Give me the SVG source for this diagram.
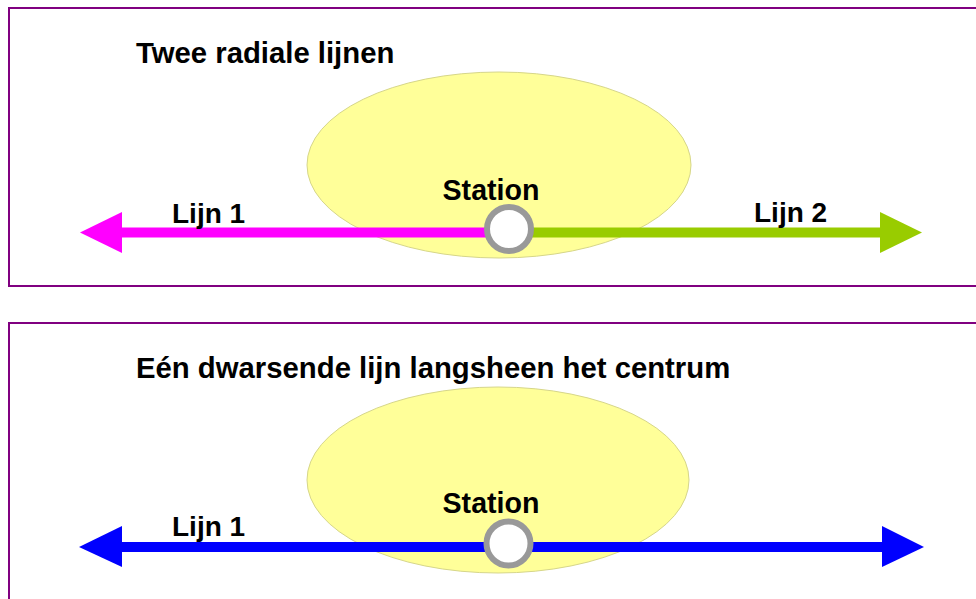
<svg xmlns="http://www.w3.org/2000/svg" width="976" height="599" viewBox="0 0 976 599">
  <defs>
    <style>
      .panel { fill: #ffffff; stroke: #800080; stroke-width: 2; }
      .area { fill: #ffff99; stroke: #d6d68a; stroke-width: 1; }
      .title { font-family: "Liberation Sans", Arial, sans-serif; font-weight: bold; font-size: 29.3px; fill: #000000; }
      .label { font-family: "Liberation Sans", Arial, sans-serif; font-weight: bold; font-size: 28px; fill: #000000; }
      .station { font-size: 28.6px; }
      .stop { fill: #ffffff; stroke: #999999; stroke-width: 6; }
      .line { stroke-width: 10; fill: none; }
    </style>
  </defs>

  <rect width="976" height="599" fill="#ffffff"/>

  <!-- Panel 1: two radial lines -->
  <g id="panel-radial">
    <rect class="panel" x="9" y="8" width="990" height="278"/>
    <text class="title" x="136" y="63">Twee radiale lijnen</text>
    <g id="centre-area-1">
      <ellipse class="area" cx="499" cy="165" rx="192" ry="93"/>
    </g>
    <g id="connectors-1">
      <line class="line" x1="120" y1="232.5" x2="509" y2="232.5" stroke="#ff00ff"/>
      <polygon points="80,232.5 122,212 122,253" fill="#ff00ff"/>
      <line class="line" x1="509" y1="232.5" x2="882" y2="232.5" stroke="#99cc00"/>
      <polygon points="922,232.5 880,212 880,253" fill="#99cc00"/>
    </g>
    <g id="station-1">
      <circle class="stop" cx="509" cy="229" r="22"/>
      <text class="label station" x="491" y="200" text-anchor="middle">Station</text>
    </g>
    <g id="label-lijn1-top">
      <text class="label" x="172" y="223">Lijn 1</text>
    </g>
    <g id="label-lijn2-top">
      <text class="label" x="754" y="222">Lijn 2</text>
    </g>
  </g>

  <!-- Panel 2: one cross-town line past the centre -->
  <g id="panel-crosstown">
    <rect class="panel" x="9" y="323" width="990" height="300"/>
    <text class="title" x="136" y="378">Eén dwarsende lijn langsheen het centrum</text>
    <g id="centre-area-2">
      <ellipse class="area" cx="498" cy="480" rx="191" ry="93"/>
    </g>
    <g id="connectors-2">
      <line class="line" x1="120" y1="547" x2="884" y2="547" stroke="#0000ff"/>
      <polygon points="79,547 122,526 122,567" fill="#0000ff"/>
      <polygon points="924,547 882,526 882,567" fill="#0000ff"/>
    </g>
    <g id="station-2">
      <circle class="stop" cx="508.5" cy="543.5" r="22"/>
      <text class="label station" x="491" y="513" text-anchor="middle">Station</text>
    </g>
    <g id="label-lijn1-bottom">
      <text class="label" x="172" y="536">Lijn 1</text>
    </g>
  </g>
</svg>
